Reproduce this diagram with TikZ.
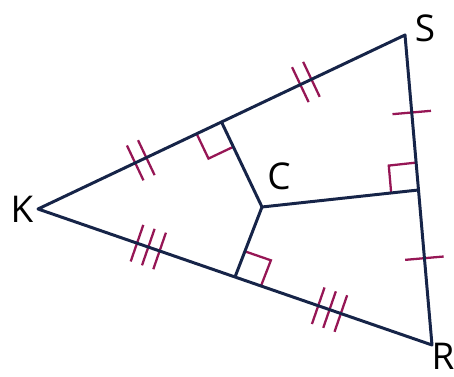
\documentclass[tikz,border=0pt]{standalone}
\usepackage{fontspec}
\setsansfont{Open Sans}
\usetikzlibrary{calc,decorations.markings}
\definecolor{sidenavy}{RGB}{22,36,72}
\definecolor{markplum}{RGB}{150,22,85}
\tikzset{
  tri-side/.style={draw=sidenavy, line width=1.7pt, line join=round},
  bisector/.style={draw=sidenavy, line width=1.7pt},
  tick-mark/.style={draw=markplum, line width=1.3pt},
  right-mark/.style={draw=markplum, line width=1.3pt},
  vertex-label/.style={font=\sffamily\fontsize{21}{24}\selectfont, text=black, inner sep=0pt}
}
\newcommand{\oneTick}{\draw[tick-mark] (0pt,-11pt) -- (0pt,11pt);}
\newcommand{\twoTicks}{\draw[tick-mark] (-3.5pt,-11pt) -- (-3.5pt,11pt) (3.5pt,-11pt) -- (3.5pt,11pt);}
\newcommand{\threeTicks}{\draw[tick-mark] (-6.8pt,-11pt) -- (-6.8pt,11pt) (0pt,-11pt) -- (0pt,11pt) (6.8pt,-11pt) -- (6.8pt,11pt);}

\begin{document}
\begin{tikzpicture}[x=0.02cm, y=-0.02cm]
  \useasboundingbox (0,0) rectangle (454,377);

  % vertices, centre and feet of the bisectors
  \coordinate (K) at (38,209);
  \coordinate (S) at (405,35);
  \coordinate (R) at (432,345);
  \coordinate (C) at (262,207);
  \coordinate (Fks) at ($(K)!0.5!(S)$);
  \coordinate (Fsr) at ($(S)!0.5!(R)$);
  \coordinate (Fkr) at ($(K)!0.5!(R)$);

  % right angle marks
  \coordinate (ks1) at ($(Fks)!0.55cm!(K)$);
  \coordinate (ks2) at ($(Fks)!0.55cm!(C)$);
  \draw[right-mark] (ks1) -- ($(ks1)+(ks2)-(Fks)$) -- (ks2);
  \coordinate (sr1) at ($(Fsr)!0.55cm!(S)$);
  \coordinate (sr2) at ($(Fsr)!0.55cm!(C)$);
  \draw[right-mark] (sr1) -- ($(sr1)+(sr2)-(Fsr)$) -- (sr2);
  \coordinate (kr1) at ($(Fkr)!0.55cm!(R)$);
  \coordinate (kr2) at ($(Fkr)!0.55cm!(C)$);
  \draw[right-mark] (kr1) -- ($(kr1)+(kr2)-(Fkr)$) -- (kr2);

  % equal halves
  \path[postaction={decorate}, decoration={markings,
    mark=at position 0.28 with {\twoTicks}, mark=at position 0.73 with {\twoTicks}}] (K) -- (S);
  \path[postaction={decorate}, decoration={markings,
    mark=at position 0.25 with {\oneTick}, mark=at position 0.72 with {\oneTick}}] (S) -- (R);
  \path[postaction={decorate}, decoration={markings,
    mark=at position 0.28 with {\threeTicks}, mark=at position 0.74 with {\threeTicks}}] (K) -- (R);

  % triangle and bisectors
  \draw[tri-side] (K) -- (S) -- (R) -- cycle;
  \draw[bisector] (C) -- (Fks);
  \draw[bisector] (C) -- (Fsr);
  \draw[bisector] (C) -- (Fkr);

  % labels
  \node[vertex-label] (labK) at (22,209) {K};
  \node[vertex-label] (labS) at (425,28) {S};
  \node[vertex-label] (labC) at (279,176) {C};
  \node[vertex-label] (labR) at (443,356) {R};
\end{tikzpicture}
\end{document}
